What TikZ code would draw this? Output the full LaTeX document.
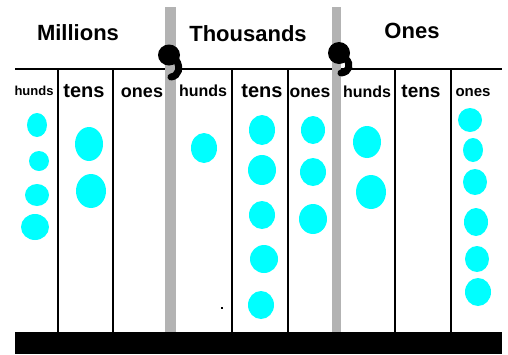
\documentclass[tikz,border=0pt]{standalone}
\usepackage{fontspec}
\setmainfont{Liberation Sans}
\definecolor{bargray}{RGB}{179,179,179}
\definecolor{beadcyan}{RGB}{0,255,255}
\begin{document}
\begin{tikzpicture}[x=1pt,y=-1pt,
  title/.style={font=\bfseries\fontsize{22}{22}\selectfont, anchor=base, inner sep=0pt},
  collabel/.style={font=\bfseries\fontsize{#1}{#1}\selectfont, anchor=base, inner sep=0pt},
  rule/.style={line width=1.5pt, black},
  sep/.style={fill=bargray, draw=none},
  tail/.style={line width=7pt, line cap=round},
  beadfill/.style={fill=beadcyan}]
\useasboundingbox (0,0) rectangle (508,354);
% column rules
\foreach \x in {58,113,232,288,395,451} \draw[rule] (\x,69) -- (\x,333);
\draw[rule] (15,69) -- (502,69);
% group separators
\fill[sep] (165,7) rectangle (176,333);
\fill[sep] (332,7) rectangle (341,333);
% commas
\fill (169,55) ellipse [x radius=11, y radius=10.5];
\draw[tail] (176,60) .. controls (181,67) and (179,76) .. (171,77);
\fill (339,53) circle [radius=11];
\draw[tail] (346,59) .. controls (351,64) and (350,72) .. (341,73);
% titles
\node[title] (millions) at (78,40) {Millions};
\node[title] (thousands) at (248,41) {Thousands};
\node[title] (ones) at (412,38) {Ones};
% column labels
\node[collabel=13] (h1) at (34,95) {hunds};
\node[collabel=20] (t1) at (84,97) {tens};
\node[collabel=18] (o1) at (142,97) {ones};
\node[collabel=16] (h2) at (203,96) {hunds};
\node[collabel=20] (t2) at (262,97) {tens};
\node[collabel=17.5] (o2) at (310,97) {ones};
\node[collabel=16] (h3) at (367,97) {hunds};
\node[collabel=19] (t3) at (421,97) {tens};
\node[collabel=15] (o3) at (473,96) {ones};
% beads
\foreach \x/\y/\rx/\ry in {
  37/125/10/12, 39/161/10/10, 37/195/12/11, 35/227/14/13,
  89/144/14/17, 91/191/15/17,
  204/148/13/15,
  262/130/13/15, 262/170/14/15, 262/215/13/14, 264/259/14/14, 261/305/13/14,
  313/130/12/14, 313/172/13/14, 313/219/14/15,
  367/142/14/16, 371/192/15/17,
  470/120/12/12, 473/150/10/12, 475/182/12/13, 476/222/12/14, 477/259/12/13, 478/292/13/14}
  \fill[beadfill] (\x,\y) ellipse [x radius=\rx, y radius=\ry];
% stray dot
\fill (221,307) rectangle (223,309);
% base
\fill (15,332) rectangle (502,354);
\end{tikzpicture}
\end{document}
